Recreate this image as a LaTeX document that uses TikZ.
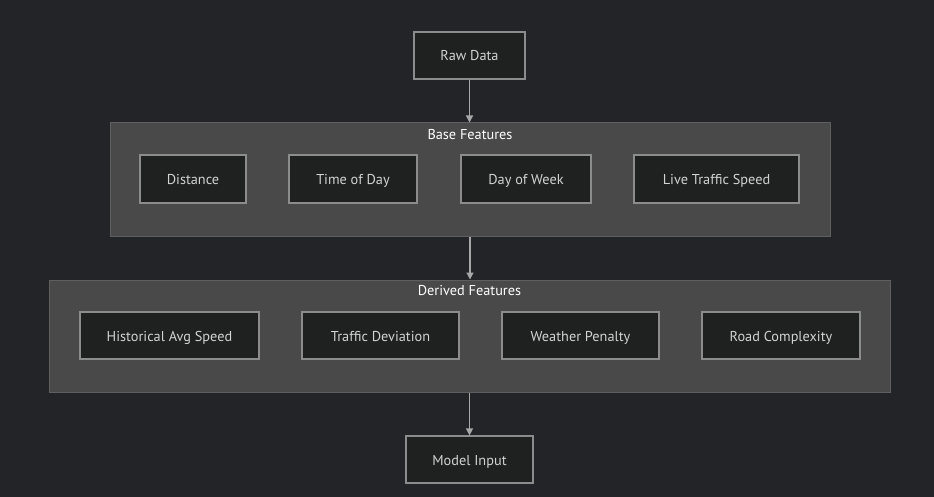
\documentclass[tikz,border=0pt]{standalone}
\usepackage{fontspec}
\setmainfont{PT Sans}
\usetikzlibrary{arrows.meta}
\definecolor{bgc}{HTML}{232428}
\definecolor{clfill}{HTML}{484948}
\definecolor{cldraw}{HTML}{5E5F5E}
\definecolor{ndfill}{HTML}{1F2020}
\definecolor{nddraw}{HTML}{8C8C8C}
\definecolor{ndtext}{HTML}{D2D2D2}
\definecolor{arr}{HTML}{A8A8A8}
\tikzset{
  box/.style={draw=nddraw, fill=ndfill, line width=1.2pt, text=ndtext, inner sep=0pt,
    font=\fontsize{14.3}{16}\selectfont, text height=11.5pt, text depth=0.5pt},
  cluster/.style={draw=cldraw, fill=clfill, line width=1pt, inner sep=0pt},
  ctitle/.style={text=white, font=\fontsize{14.3}{16}\selectfont, inner sep=0pt, text height=11.5pt, text depth=0.5pt},
  flow/.style={draw=arr, line width=1.2pt, -{Triangle[length=7pt,width=7pt]}}
}
\begin{document}
\begin{tikzpicture}[x=1pt,y=-1pt]
\fill[bgc] (0,0) rectangle (934,497);
\useasboundingbox (0,0) rectangle (934,497);
% clusters
\node[cluster, minimum width=720pt, minimum height=113pt] (base) at (470,179.5) {};
\node[ctitle] (basetitle) at (470,134) {Base Features};
\node[cluster, minimum width=841pt, minimum height=112pt] (derived) at (469.5,336) {};
\node[ctitle] (derivedtitle) at (469.5,290) {Derived Features};
% nodes
\node[box, minimum width=111pt, minimum height=47pt] (raw) at (469.5,55.5) {Raw Data};
\node[box, minimum width=106pt, minimum height=48pt] (dist) at (193,179) {Distance};
\node[box, minimum width=128pt, minimum height=48pt] (tod) at (353,179) {Time of Day};
\node[box, minimum width=130pt, minimum height=48pt] (dow) at (526,179) {Day of Week};
\node[box, minimum width=165pt, minimum height=48pt] (lts) at (716.5,179) {Live Traffic Speed};
\node[box, minimum width=179pt, minimum height=47pt] (has) at (169.5,335.5) {Historical Avg Speed};
\node[box, minimum width=157pt, minimum height=47pt] (td) at (380.5,335.5) {Traffic Deviation};
\node[box, minimum width=157pt, minimum height=47pt] (wp) at (580.5,335.5) {Weather Penalty};
\node[box, minimum width=158pt, minimum height=47pt] (rc) at (781,335.5) {Road Complexity};
\node[box, minimum width=127pt, minimum height=47pt] (mi) at (469.5,459.5) {Model Input};
% connectors
\draw[flow] (raw.south) -- (raw.south |- base.north);
\draw[flow] (base.south) -- (base.south |- derived.north);
\draw[flow] (mi.north |- derived.south) -- (mi.north);
\end{tikzpicture}
\end{document}
